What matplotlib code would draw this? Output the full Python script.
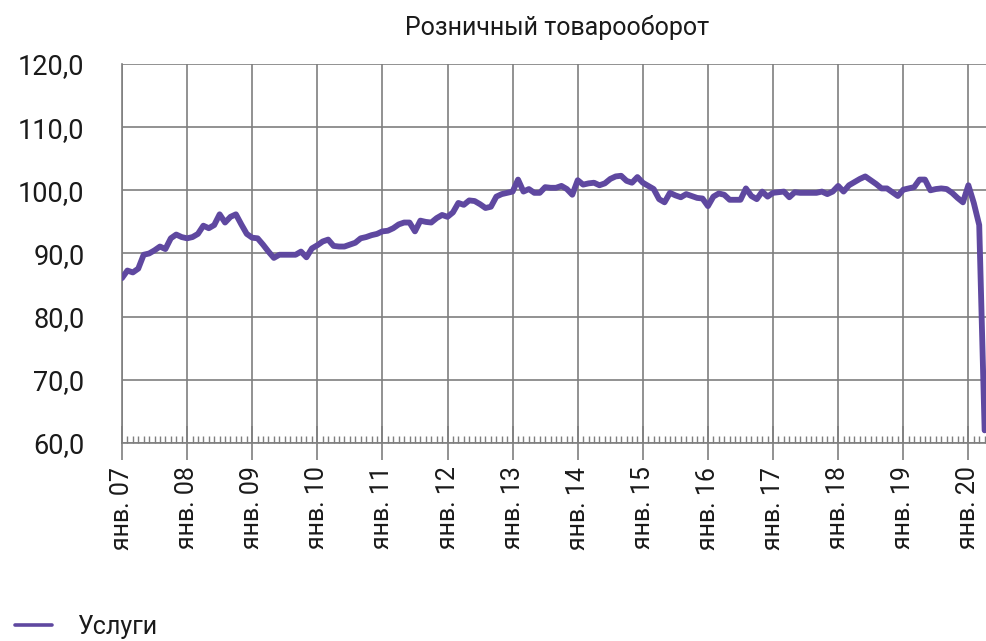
#!/usr/bin/env python3
"""Retail turnover index, services (monthly, Jan 2007 - Apr 2020)."""

import matplotlib
import numpy as np

matplotlib.use("Agg")
import matplotlib.pyplot as plt
from matplotlib.ticker import FixedLocator, MultipleLocator

plt.rcParams["font.family"] = ["Roboto", "DejaVu Sans"]

title = "Розничный товарооборот"
series_name = "Услуги"

# one value per month, starting January 2007
services = [
    86.1, 87.3, 87.0, 87.6, 89.8, 90.0, 90.5, 91.1, 90.7, 92.4, 93.0, 92.6,   # 2007
    92.4, 92.6, 93.1, 94.4, 94.0, 94.5, 96.2, 94.9, 95.8, 96.2, 94.6, 93.1,   # 2008
    92.5, 92.4, 91.4, 90.3, 89.3, 89.8, 89.8, 89.8, 89.8, 90.3, 89.4, 90.8,   # 2009
    91.3, 91.9, 92.2, 91.2, 91.1, 91.1, 91.4, 91.7, 92.4, 92.6, 92.9, 93.1,   # 2010
    93.5, 93.6, 94.0, 94.6, 94.9, 94.9, 93.5, 95.2, 95.0, 94.9, 95.6, 96.1,   # 2011
    95.8, 96.5, 98.0, 97.7, 98.4, 98.3, 97.8, 97.2, 97.4, 99.0, 99.4, 99.6,   # 2012
    99.8, 101.7, 99.8, 100.2, 99.6, 99.6, 100.5, 100.4, 100.4, 100.7, 100.2, 99.3,  # 2013
    101.6, 100.9, 101.1, 101.2, 100.8, 101.1, 101.8, 102.2, 102.3, 101.5, 101.2, 102.1,  # 2014
    101.2, 100.7, 100.2, 98.6, 98.1, 99.6, 99.2, 98.9, 99.4, 99.1, 98.8, 98.7,  # 2015
    97.5, 99.0, 99.5, 99.3, 98.5, 98.5, 98.5, 100.3, 99.1, 98.6, 99.8, 99.0,   # 2016
    99.6, 99.7, 99.8, 98.9, 99.7, 99.6, 99.6, 99.6, 99.6, 99.8, 99.4, 99.8,   # 2017
    100.7, 99.8, 100.8, 101.3, 101.8, 102.2, 101.6, 101.0, 100.3, 100.3, 99.7, 99.1,  # 2018
    100.1, 100.3, 100.5, 101.7, 101.7, 100.0, 100.2, 100.3, 100.2, 99.6, 98.8, 98.1,  # 2019
    100.8, 98.0, 94.5, 62.0,                                                    # 2020
]
year_labels = ["янв. 07", "янв. 08", "янв. 09", "янв. 10", "янв. 11", "янв. 12", "янв. 13",
               "янв. 14", "янв. 15", "янв. 16", "янв. 17", "янв. 18", "янв. 19", "янв. 20"]
y_ticks = [60, 70, 80, 90, 100, 110, 120]

line_color = "#5f48a0"
grid_color = "#7f7f7f"
text_color = "#1a1a1a"

fig = plt.figure(figsize=(9.86, 6.41), dpi=100)
ax = fig.add_axes([0.1237, 0.3089, 0.8763, 0.5913])

months = np.arange(len(services))
ax.plot(months, services, color=line_color, linewidth=4.2, solid_joinstyle="round",
        solid_capstyle="round", label=series_name, zorder=3)

ax.set_ylim(60, 120)
ax.set_xlim(0, len(services) - 0.75)
ax.set_yticks(y_ticks)
ax.set_yticklabels([f"{v:.1f}".replace(".", ",") for v in y_ticks], fontsize=19.5,
                   color=text_color)

ax.xaxis.set_major_locator(FixedLocator(np.arange(0, len(services), 12)))
ax.xaxis.set_minor_locator(MultipleLocator(1))
ax.set_xticklabels(year_labels, rotation=90, fontsize=18, va="top", color=text_color)

ax.grid(True, which="major", color=grid_color, linewidth=1.2)
ax.tick_params(axis="y", length=0, pad=27)
ax.tick_params(axis="x", which="major", direction="inout", length=24, width=1.2,
               color=grid_color, pad=5)
ax.tick_params(axis="x", which="minor", direction="in", length=5, width=1.0,
               color=grid_color)

for side in ["top", "right"]:
    ax.spines[side].set_visible(False)
ax.spines["left"].set_color(grid_color)
ax.spines["bottom"].set_color(grid_color)
ax.spines["left"].set_linewidth(1.2)
ax.spines["bottom"].set_linewidth(1.2)

fig.text(0.565, 0.957, title, ha="center", va="center", fontsize=18, color=text_color)

leg = fig.legend(loc="center left", bbox_to_anchor=(0.0152, 0.022), frameon=False,
                 borderaxespad=0, borderpad=0, prop={"size": 18},
                 handlelength=1.5, handletextpad=1.0, labelcolor=text_color)
leg.get_lines()[0].set_linewidth(2.6)

fig.savefig("out.png", dpi=100)
